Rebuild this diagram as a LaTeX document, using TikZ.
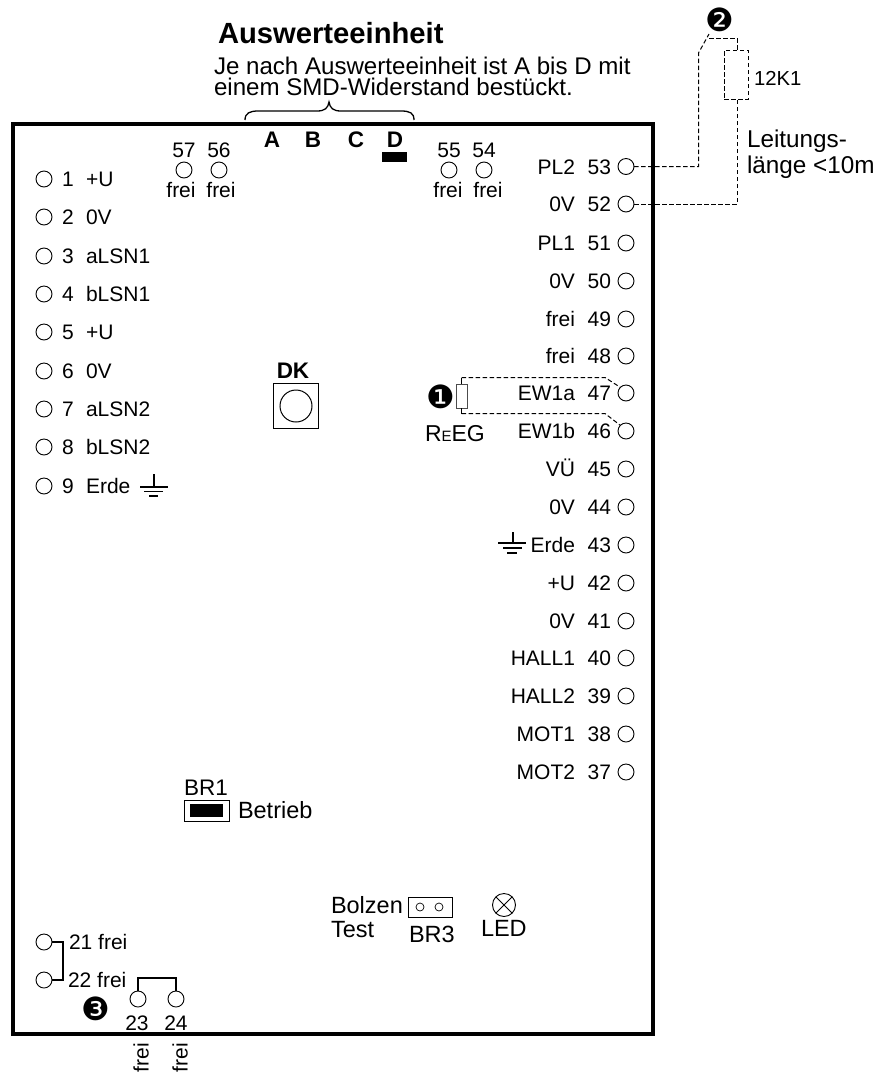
\documentclass[tikz,border=0pt]{standalone}
\usepackage{fontspec}
\setmainfont{Liberation Sans}
\newfontfamily\dvfont{DejaVu Sans}
\usetikzlibrary{calc}
\newcommand{\lblfont}{\fontsize{21}{23}\selectfont}
\tikzset{
  x=1pt,y=-1pt,
  every node/.style={inner sep=0pt,outer sep=0pt},
  pin/.style={circle,draw,line width=0.9pt,minimum size=16pt,fill=white},
  txt/.style={font=\lblfont,anchor=base west},
  txtr/.style={font=\lblfont,anchor=base east},
  big/.style={font=\fontsize{23.5}{25}\selectfont,anchor=base west},
  letter/.style={font=\fontsize{22.5}{24}\selectfont\bfseries,anchor=center},
  bullet/.style={font=\fontsize{32}{33}\selectfont\dvfont,anchor=center},
  dash wire/.style={line width=1pt,dash pattern=on 4.5pt off 2.5pt},
  wire/.style={line width=1.2pt},
  gnd/.style={line width=1.1pt},
  res/.style={draw,rectangle},
}
\begin{document}
\begin{tikzpicture}
\useasboundingbox (0,0) rectangle (877,1072);
% board
\node[draw,line width=4pt,minimum width=640pt,minimum height=910pt,anchor=north west] (board) at (13,124) {};
% title
\node[font=\fontsize{29.2}{30}\selectfont\bfseries,anchor=base west] (title) at (218,43) {Auswerteeinheit};
\node[font=\fontsize{24.1}{24}\selectfont,anchor=base west] (sub1) at (214,74) {Je nach Auswerteeinheit ist A bis D mit};
\node[font=\fontsize{24.1}{24}\selectfont,anchor=base west] (sub2) at (214,95) {einem SMD-Widerstand bestückt.};
% brace
\draw[line width=1.3pt] (245,120) .. controls (245,113) and (250,111) .. (258,111) -- (317,111)
  .. controls (325,111) and (328,108) .. (329,102) .. controls (330,108) and (333,111) .. (341,111)
  -- (401,111) .. controls (410,111) and (414,113) .. (414,120);
% A B C D
\node[letter] (lA) at (272,140) {A};
\node[letter] (lB) at (313,140) {B};
\node[letter] (lC) at (356,140) {C};
\node[letter] (lD) at (395,140) {D};
\node[fill=black,minimum width=25pt,minimum height=10pt] (barD) at (394.5,157) {};
% top pins
\foreach \n/\x/\fx in {57/184/181,56/219/221,55/449/448,54/484/488}{
  \node[pin] (p\n) at (\x,170) {};
  \node[font=\lblfont,anchor=base] (n\n) at (\x,157.5) {\n};
  \node[font=\lblfont,anchor=base] (f\n) at (\fx,197) {frei};
}
% left pins
\foreach \n/\lab/\y in {1/+U/179,2/0V/217,3/aLSN1/256,4/bLSN1/294,5/+U/332,6/0V/371,7/aLSN2/409,8/bLSN2/447,9/Erde/486}{
  \node[pin] (p\n) at (44,\y) {};
  \node[txt] (n\n) at (62,\y+7.5) {\n};
  \node[txt] (l\n) at (86,\y+7.5) {\lab};
}
% right pins
\foreach \n/\lab/\y in {53/PL2/166.5,52/0V/204,51/PL1/243,50/0V/281,49/frei/319,48/frei/356,47/EW1a/393,46/EW1b/431,45/VÜ/469,44/0V/507,43/Erde/545,42/+U/583,41/0V/621,40/HALL1/658,39/HALL2/696,38/MOT1/734,37/MOT2/772}{
  \node[pin] (p\n) at (626,\y) {};
  \node[txtr] (n\n) at (611,\y+7.5) {\n};
  \node[txtr] (l\n) at (575,\y+7.5) {\lab};
}
% grounds
\draw[gnd] (154,474) -- (154,487) (140,487) -- (168,487) (144,491.5) -- (163,491.5) (149,496) -- (158,496);
\draw[gnd] (513,532) -- (513,543) (498,543) -- (526,543) (503,548) -- (522,548) (507,553) -- (517,553);
% DK
\node[letter] (dk) at (293,371) {DK};
\node[draw,line width=1.8pt,minimum size=45pt] (dkbox) at (296,406) {};
\node[circle,draw,line width=1pt,minimum size=32pt] (dkbtn) at (dkbox.center) {};
% external resistor 12K1
\node[res,dash wire,minimum width=24pt,minimum height=49pt] (r12) at (736,74.5) {};
\node[font=\fontsize{20.3}{22}\selectfont,anchor=base west] (t12) at (754,85) {12K1};
\node[big,font=\fontsize{24.3}{24}\selectfont] (lei1) at (747,147) {Leitungs-};
\node[big,font=\fontsize{24.3}{24}\selectfont] (lei2) at (747,173) {länge <10m};
\node[bullet] (b2) at (720,20) {❷};
\coordinate (c53a) at (698.5,166.5);
\coordinate (c53b) at (698.5,53);
\coordinate (c53c) at (709,34);
\coordinate (c53d) at (709,38);
\coordinate (c53e) at (737,38);
\coordinate (c52a) at (737,204);
\draw[dash wire] (p53.east) -- (c53a) -- (c53b) -- (c53c);
\draw[dash wire] (c53d) -- (c53e) -- (c53e |- r12.north);
\draw[dash wire] (p52.east) -- (c52a) -- (c52a |- r12.south);
% REEG
\node[res,draw=black!70,line width=0.9pt,minimum width=11pt,minimum height=24pt] (reeg) at (461.5,396) {};
\node[bullet] (b1) at (441,397) {❶};
\node[big,font=\fontsize{23}{24}\selectfont] (reegt) at (425,441) {R\raisebox{-0.5pt}{\fontsize{15}{15}\selectfont E}EG};
\coordinate (rt) at (461.5,377.5);
\coordinate (rb) at (461.5,413.5);
\coordinate (rt2) at (605,377.5);
\coordinate (rb2) at (605,413.5);
\draw[line width=0.9pt] (reeg.north) -- (rt);
\draw[line width=0.9pt] (reeg.south) -- (rb);
\draw[dash wire] (rt) -- (rt2) -- (p47.north west);
\draw[dash wire] (rb) -- (rb2) -- (p46.north west);
% BR1
\node[big,font=\fontsize{22.5}{24}\selectfont] (br1) at (184,795) {BR1};
\node[draw,line width=1pt,minimum width=45pt,minimum height=21pt] (br1box) at (206.5,810.5) {};
\node[fill=black,minimum width=33pt,minimum height=13pt] (br1j) at (br1box.center) {};
\node[big] (betr) at (238,818) {Betrieb};
% BR3
\node[big] (bolzen) at (331,913) {Bolzen};
\node[big] (test) at (331,937) {Test};
\node[draw,line width=1pt,minimum width=44pt,minimum height=20pt] (br3box) at (430,907) {};
\node[circle,draw,line width=0.7pt,minimum size=8pt] (br3a) at (420,907) {};
\node[circle,draw,line width=0.7pt,minimum size=8pt] (br3b) at (439,907) {};
\node[big] (br3) at (409,942) {BR3};
% LED
\node[circle,draw,line width=0.9pt,minimum size=23pt] (led) at (504,905) {};
\draw[line width=0.8pt] (led.north west) -- (led.south east) (led.north east) -- (led.south west);
\node[big] (ledt) at (481,936) {LED};
% bottom pins
\node[pin] (p21) at (44,942) {};
\node[pin] (p22) at (44,980) {};
\node[txt] (t21) at (69,949) {21 frei};
\node[txt] (t22) at (68,987) {22 frei};
\draw[wire] (p21.east) -- ++(11,0) -- ($(p22.east)+(11,0)$) -- (p22.east);
\node[pin] (p23) at (138,999) {};
\node[pin] (p24) at (176,999) {};
\node[font=\lblfont,anchor=center] (n23) at (137,1023) {23};
\node[font=\lblfont,anchor=center] (n24) at (176,1023) {24};
\node[font=\lblfont,rotate=90,anchor=center] (f23) at (141,1057.5) {frei};
\node[font=\lblfont,rotate=90,anchor=center] (f24) at (180,1057.5) {frei};
\coordinate (j23) at (138,978);
\coordinate (j24) at (176,978);
\draw[wire] (p23.north) -- (j23) -- (j24) -- (p24.north);
\node[bullet] (b3) at (96,1009) {❸};
\end{tikzpicture}
\end{document}
